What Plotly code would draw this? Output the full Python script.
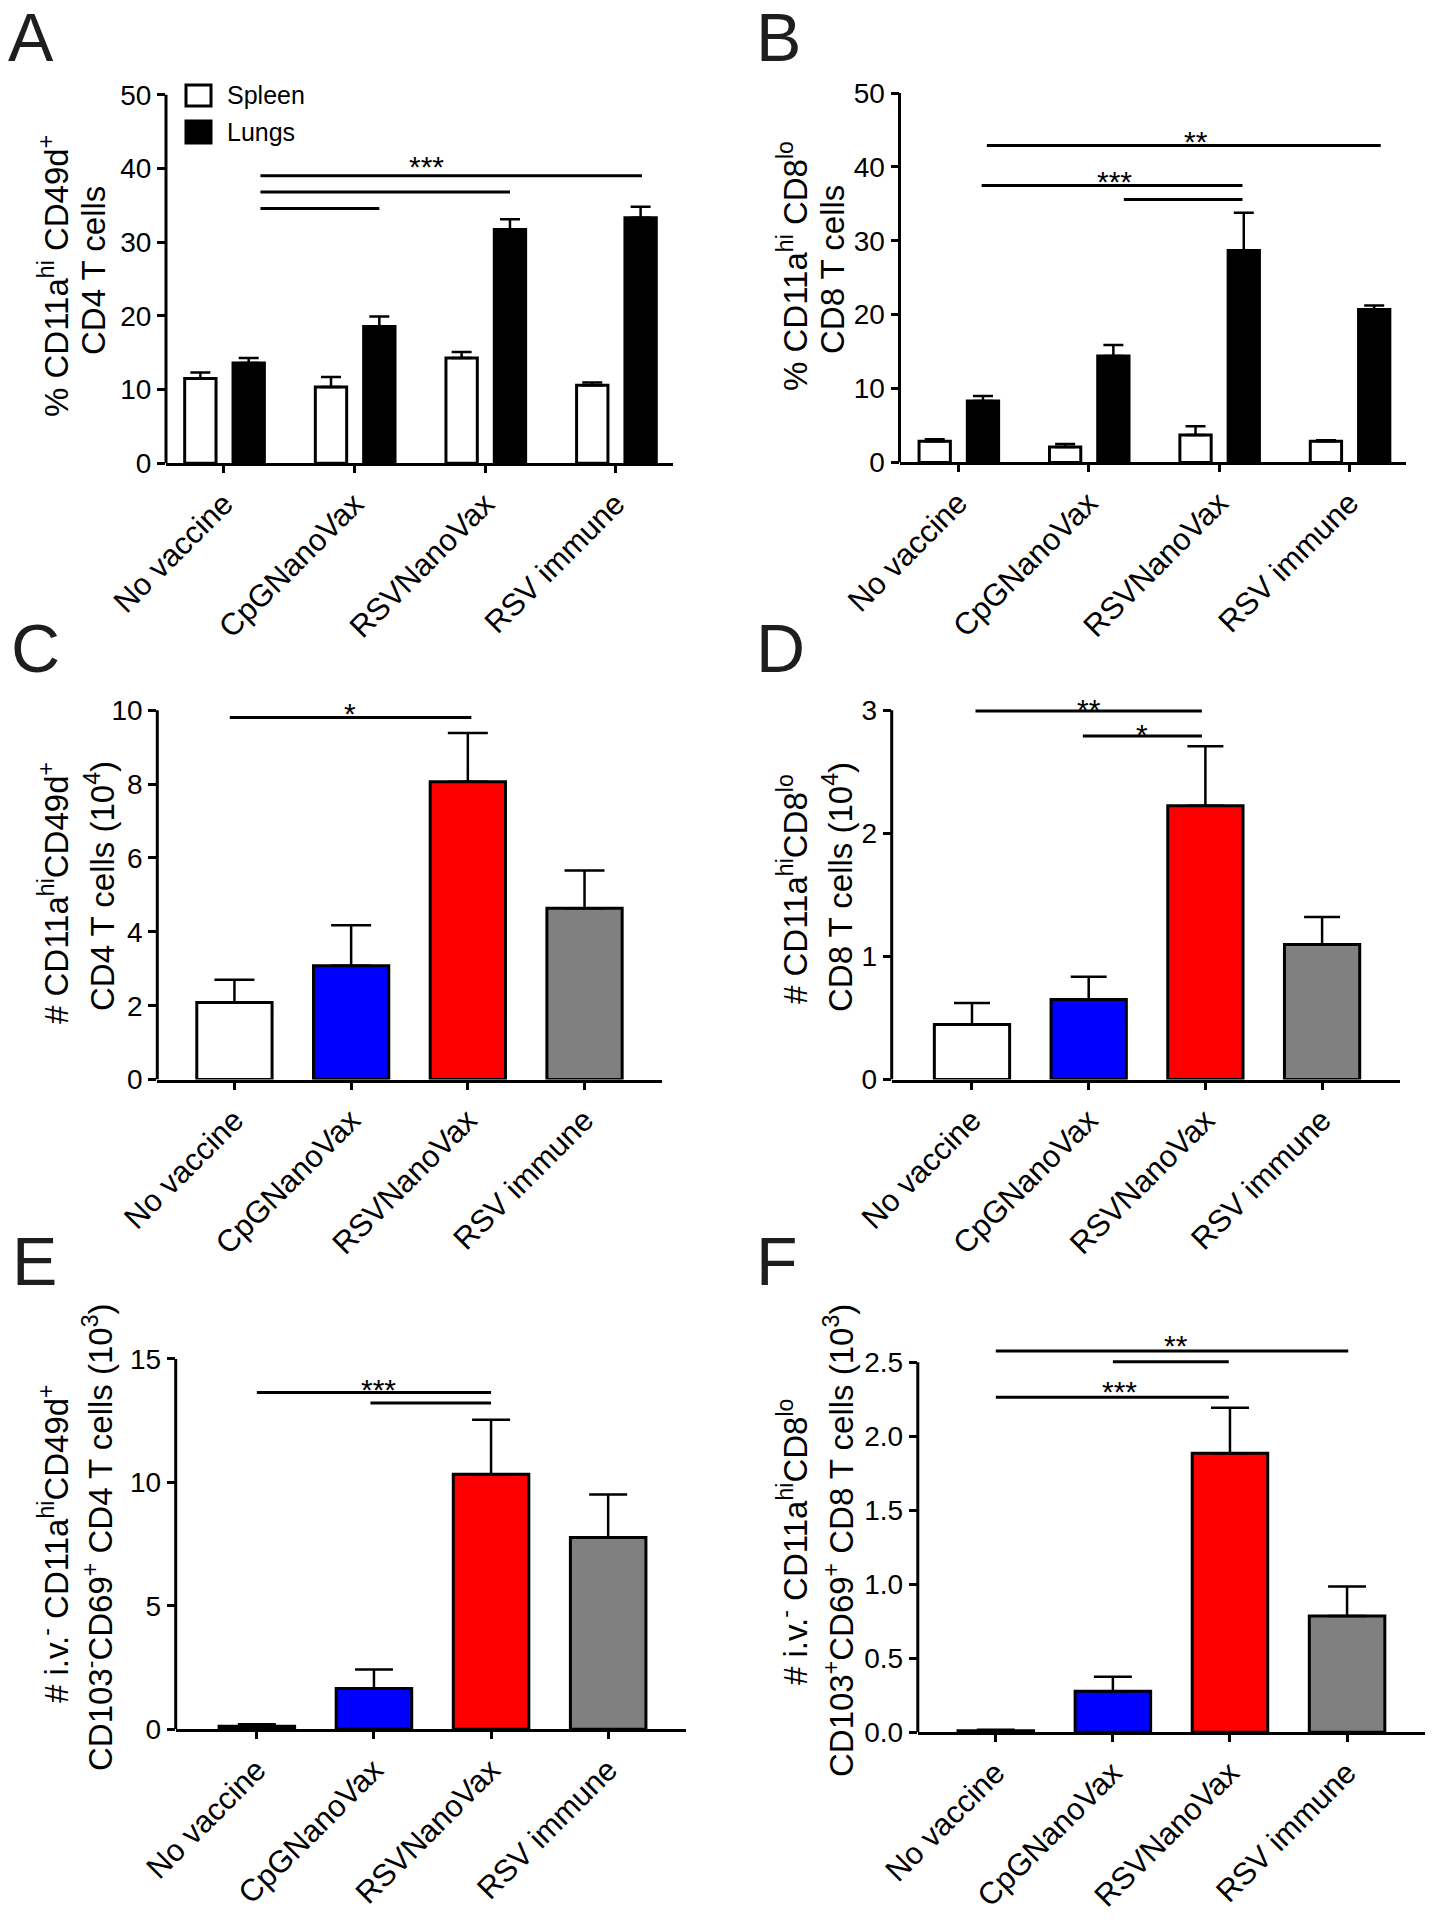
import plotly.graph_objects as go

W, H = 1432, 1920
FONT = "Liberation Sans, Arial, sans-serif"

categories = ["No vaccine", "CpGNanoVax", "RSVNanoVax", "RSV immune"]

# ---- Panel A: % CD11a-hi CD49d+ CD4 T cells
a_spleen = [11.5, 10.35, 14.3, 10.6]
a_spleen_err = [0.8, 1.35, 0.8, 0.35]
a_lungs = [13.6, 18.55, 31.7, 33.3]
a_lungs_err = [0.7, 1.35, 1.4, 1.5]
a_ticks = [0, 10, 20, 30, 40, 50]

# ---- Panel B: % CD11a-hi CD8-lo CD8 T cells
b_spleen = [2.85, 2.1, 3.7, 2.85]
b_spleen_err = [0.3, 0.4, 1.2, 0.15]
b_lungs = [8.3, 14.4, 28.7, 20.7]
b_lungs_err = [0.7, 1.5, 5.1, 0.55]
b_ticks = [0, 10, 20, 30, 40, 50]

# ---- Panel C: # CD11a-hi CD49d+ CD4 T cells (10^4)
c_vals = [2.09, 3.08, 8.06, 4.64]
c_err = [0.61, 1.10, 1.32, 1.02]
c_ticks = [0, 2, 4, 6, 8, 10]

# ---- Panel D: # CD11a-hi CD8-lo CD8 T cells (10^4)
d_vals = [0.447, 0.65, 2.224, 1.097]
d_err = [0.176, 0.185, 0.484, 0.223]
d_ticks = [0, 1, 2, 3]

# ---- Panel E: # i.v.- CD103-CD69+ CD4 T cells (10^3)
e_vals = [0.12, 1.65, 10.33, 7.77]
e_err = [0.08, 0.77, 2.21, 1.74]
e_ticks = [0, 5, 10, 15]

# ---- Panel F: # i.v.- CD103+CD69+ CD8 T cells (10^3)
f_vals = [0.01, 0.276, 1.886, 0.785]
f_err = [0.006, 0.099, 0.307, 0.199]
f_ticks = [0.0, 0.5, 1.0, 1.5, 2.0, 2.5]

group_colors = ["#ffffff", "#0000ff", "#ff0000", "#808080"]

# significance brackets: (x_start, x_end, y) and star labels (x, y, text)
a_sig = [(0.28, 3.20, 39.0), (0.28, 2.19, 36.8), (0.28, 1.19, 34.55)]
a_stars = [(1.55, 41.3, "***")]
b_sig = [(0.22, 3.24, 42.9), (0.18, 2.18, 37.5), (1.27, 2.18, 35.6)]
b_stars = [(1.82, 44.5, "**"), (1.20, 39.1, "***")]
c_sig = [(-0.04, 2.03, 9.8)]
c_stars = [(0.99, 10.13, "*")]
d_sig = [(0.03, 1.97, 2.993), (0.95, 1.97, 2.79)]
d_stars = [(1.0, 3.07, "**"), (1.46, 2.87, "*")]
e_sig = [(0.0, 2.0, 13.64), (0.97, 2.0, 13.21)]
e_stars = [(1.04, 14.1, "***")]
f_sig = [(0.0, 3.01, 2.577), (1.0, 1.99, 2.503), (0.0, 1.99, 2.264)]
f_stars = [(1.54, 2.665, "**"), (1.06, 2.358, "***")]

# y-axis titles (two lines each)
titles = {
    1: ["% CD11a<sup>hi</sup> CD49d<sup>+</sup>", "CD4 T cells"],
    2: ["% CD11a<sup>hi</sup> CD8<sup>lo</sup>", "CD8 T cells"],
    3: ["# CD11a<sup>hi</sup>CD49d<sup>+</sup>", "CD4 T cells (10<sup>4</sup>)"],
    4: ["# CD11a<sup>hi</sup>CD8<sup>lo</sup>", "CD8 T cells (10<sup>4</sup>)"],
    5: ["# i.v.<sup>-</sup> CD11a<sup>hi</sup>CD49d<sup>+</sup>",
        "CD103<sup>-</sup>CD69<sup>+</sup> CD4 T cells (10<sup>3</sup>)"],
    6: ["# i.v.<sup>-</sup> CD11a<sup>hi</sup>CD8<sup>lo</sup>",
        "CD103<sup>+</sup>CD69<sup>+</sup> CD8 T cells (10<sup>3</sup>)"],
}
panel_letters = ["A", "B", "C", "D", "E", "F"]

# ---------------- layout geometry (pixels) ----------------
geom = {
    1: dict(xl=166, xr=673, y0=463.3, yt=94.7, xrng=[-0.443, 3.438],
            tpos=[(54, 276), (94, 271)], letter=(31, 37)),
    2: dict(xl=899.5, xr=1406.4, y0=462.4, yt=93.1, xrng=[-0.45, 3.437],
            tpos=[(793, 266), (832, 270)], letter=(779, 37)),
    3: dict(xl=157.3, xr=661.9, y0=1079.6, yt=710.2, xrng=[-0.661, 3.663],
            tpos=[(54, 893), (100, 886)], letter=(35, 648)),
    4: dict(xl=891.7, xr=1400.4, y0=1079.6, yt=710.2, xrng=[-0.688, 3.671],
            tpos=[(793, 889), (838, 887)], letter=(781, 648)),
    5: dict(xl=175.7, xr=685.8, y0=1729.3, yt=1358.9, xrng=[-0.693, 3.663],
            tpos=[(54, 1544), (98, 1537)], letter=(34, 1261)),
    6: dict(xl=917.8, xr=1424.7, y0=1732.2, yt=1362.3, xrng=[-0.666, 3.663],
            tpos=[(793, 1542), (839, 1541)], letter=(777, 1261)),
}
yticks = {1: a_ticks, 2: b_ticks, 3: c_ticks, 4: d_ticks, 5: e_ticks, 6: f_ticks}
EXT = 1.1

fig = go.Figure()
shapes = []
annotations = []


def ax(n, letter):
    return letter if n == 1 else f"{letter}{n}"


def add_bar(n, y, err, color, cap, width, offset=None):
    kw = dict(offset=offset) if offset is not None else {}
    fig.add_trace(go.Bar(
        x=categories, y=y, width=width, xaxis=ax(n, "x"), yaxis=ax(n, "y"),
        marker=dict(color=color, line=dict(color="black", width=3)),
        error_y=dict(type="data", symmetric=False, array=err,
                     arrayminus=[0] * len(err), color="black",
                     thickness=2.5, width=cap),
        showlegend=False, **kw))


# Panels A and B: grouped spleen / lungs
add_bar(1, a_spleen, a_spleen_err, "#ffffff", 10, 0.24, -0.30)
add_bar(1, a_lungs, a_lungs_err, "#000000", 10, 0.24, 0.07)
add_bar(2, b_spleen, b_spleen_err, "#ffffff", 10, 0.24, -0.30)
add_bar(2, b_lungs, b_lungs_err, "#000000", 10, 0.24, 0.07)
# Panels C-F
add_bar(3, c_vals, c_err, group_colors, 20, 0.645)
add_bar(4, d_vals, d_err, group_colors, 18, 0.645)
add_bar(5, e_vals, e_err, group_colors, 19, 0.645)
add_bar(6, f_vals, f_err, group_colors, 19, 0.645)

sigs = {1: (a_sig, a_stars), 2: (b_sig, b_stars), 3: (c_sig, c_stars),
        4: (d_sig, d_stars), 5: (e_sig, e_stars), 6: (f_sig, f_stars)}

layout_axes = {}
for n, g in geom.items():
    ticks = yticks[n]
    top = ticks[-1]
    rtop = top * EXT
    ytop_ext = g["y0"] - (g["y0"] - g["yt"]) * EXT
    xdom = [g["xl"] / W, g["xr"] / W]
    ydom = [1 - g["y0"] / H, 1 - ytop_ext / H]
    xa = dict(domain=xdom, anchor=ax(n, "y"), range=g["xrng"], automargin=False,
              showline=True, linecolor="black", linewidth=3,
              ticks="outside", ticklen=7, tickwidth=3, tickcolor="black",
              tickangle=-45, tickfont=dict(family=FONT, size=31, color="black"),
              showgrid=False, zeroline=False, fixedrange=True)
    ya = dict(domain=ydom, anchor=ax(n, "x"), range=[0, rtop], automargin=False,
              tickvals=ticks,
              ticktext=[f"{t:.1f}" for t in ticks] if n == 6 else [str(t) for t in ticks],
              showline=False, ticks="outside", ticklen=8, tickwidth=3,
              tickcolor="black",
              tickfont=dict(family=FONT, size=28, color="black"),
              showgrid=False, zeroline=False, fixedrange=True)
    layout_axes["xaxis" if n == 1 else f"xaxis{n}"] = xa
    layout_axes["yaxis" if n == 1 else f"yaxis{n}"] = ya

    # y-axis line from 0 to top tick
    shapes.append(dict(type="line", xref=f"{ax(n, 'x')} domain", yref=ax(n, "y"),
                       x0=0, x1=0, y0=0, y1=top,
                       line=dict(color="black", width=3), layer="above"))
    lines, stars = sigs[n]
    for (x0, x1, yv) in lines:
        shapes.append(dict(type="line", xref=ax(n, "x"), yref=ax(n, "y"),
                           x0=x0, x1=x1, y0=yv, y1=yv,
                           line=dict(color="black", width=3), layer="above"))
    for (xs, ys, txt) in stars:
        annotations.append(dict(x=xs, y=ys, xref=ax(n, "x"), yref=ax(n, "y"),
                                text=txt, showarrow=False, yshift=-8,
                                xanchor="center", yanchor="middle",
                                font=dict(family=FONT, size=30, color="black")))
    # y titles
    for (px, py), txt in zip(g["tpos"], titles[n]):
        annotations.append(dict(x=px / W, y=1 - py / H, xref="paper", yref="paper",
                                text=txt, textangle=-90, showarrow=False,
                                xanchor="center", yanchor="middle",
                                font=dict(family=FONT, size=33, color="black")))
    lx, ly = g["letter"]
    annotations.append(dict(x=lx / W, y=1 - ly / H, xref="paper", yref="paper",
                            text=panel_letters[n - 1], showarrow=False,
                            xanchor="center", yanchor="middle",
                            font=dict(family=FONT, size=68, color="#1e1e1e")))

# Legend for panel A (drawn manually)
legend_items = [("Spleen", "#ffffff", 85, 106), ("Lungs", "#000000", 121, 143)]
for name, col, top_px, bot_px in legend_items:
    shapes.append(dict(type="rect", xref="paper", yref="paper",
                       x0=186 / W, x1=211 / W, y0=1 - bot_px / H, y1=1 - top_px / H,
                       fillcolor=col, line=dict(color="black", width=3)))
    annotations.append(dict(x=225 / W, y=1 - (top_px + bot_px) / 2 / H,
                            xref="paper", yref="paper", text=name, showarrow=False,
                            xanchor="left", yanchor="middle",
                            font=dict(family=FONT, size=25, color="black")))

fig.update_layout(
    template="none",
    width=W, height=H, margin=dict(l=0, r=0, t=0, b=0, pad=0, autoexpand=False),
    paper_bgcolor="white", plot_bgcolor="white",
    barmode="overlay", showlegend=False,
    font=dict(family=FONT, color="black"),
    shapes=shapes, annotations=annotations, **layout_axes)

fig.write_html("out.html", config={"displayModeBar": False},
               post_script="document.body.style.margin='0';")
